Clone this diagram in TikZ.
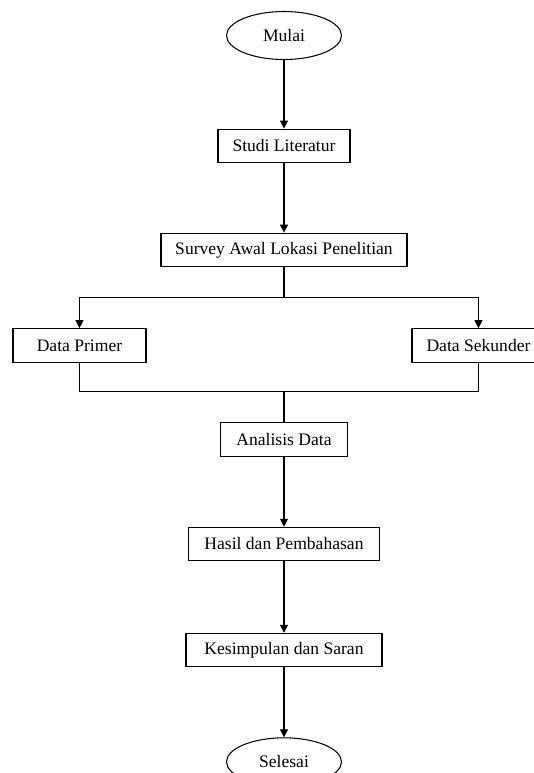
\documentclass[tikz,border=0pt]{standalone}
\usepackage{fontspec}
\setmainfont{Liberation Serif}
\usetikzlibrary{shapes,arrows.meta,positioning}

\begin{document}
\begin{tikzpicture}[
    node distance=1.4cm,
    box/.style={rectangle, draw=black, line width=0.6pt, minimum height=0.67cm, align=center, font=\fontsize{10}{12}\selectfont},
    terminal/.style={ellipse, draw=black, line width=0.6pt, minimum width=2.3cm, minimum height=0.96cm, font=\fontsize{10}{12}\selectfont},
    arrow/.style={-{Triangle[width=4.5pt,length=4.5pt]}, line width=0.6pt},
    line/.style={line width=0.6pt}
]
\useasboundingbox (-5.68,0.71) rectangle (5.0,-14.75);

% Start
\node[terminal] (mulai) at (0,0) {Mulai};

% Main steps
\node[box, minimum width=2.64cm, below=1.37cm of mulai] (studi) {Studi Literatur};
\node[box, minimum width=4.92cm, below=1.39cm of studi] (survey) {Survey Awal Lokasi Penelitian};

% Data branches
\node[box, minimum width=2.66cm, below=1.22cm of survey, xshift=-4.09cm] (primer) {Data Primer};
\node[box, minimum width=2.66cm, below=1.22cm of survey, xshift=3.89cm] (sekunder) {Data Sekunder};

% Analysis and results
\node[box, minimum width=2.54cm, below=3.1cm of survey] (analisis) {Analisis Data};
\node[box, minimum width=3.82cm, below=of analisis] (hasil) {Hasil dan Pembahasan};
\node[box, minimum width=3.92cm, below=1.43cm of hasil] (kesimpulan) {Kesimpulan dan Saran};

% End
\node[terminal, below=of kesimpulan] (selesai) {Selesai};

% Junction points
\coordinate[below=0.6cm of survey] (split);
\coordinate[above=0.62cm of analisis] (merge);

% Arrows
\draw[arrow] (mulai) -- (studi);
\draw[arrow] (studi) -- (survey);
\draw[line] (survey.south) -- (split);
\draw[arrow] (split) -| (primer.north);
\draw[arrow] (split) -| (sekunder.north);
\draw[line] (primer.south) |- (merge) -| (sekunder.south);
\draw[line] (merge) -- (analisis.north);
\draw[arrow] (analisis) -- (hasil);
\draw[arrow] (hasil) -- (kesimpulan);
\draw[arrow] (kesimpulan) -- (selesai);

\end{tikzpicture}
\end{document}
